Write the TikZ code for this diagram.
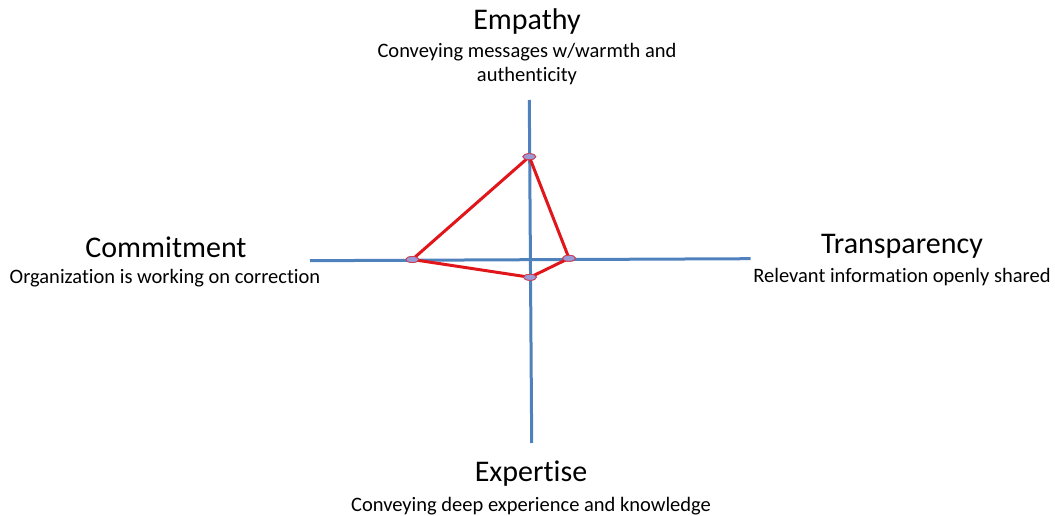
\documentclass[tikz,border=0pt]{standalone}
\usepackage{fontspec}
\setmainfont{Carlito}[RawFeature={-liga}]
\usetikzlibrary{shapes.geometric}
\definecolor{axisblue}{HTML}{4F81BD}
\definecolor{linered}{HTML}{E0161B}
\definecolor{markfill}{HTML}{9A9AD6}
\begin{document}
\begin{tikzpicture}[x=1pt,y=-1pt,
  axis/.style={draw=axisblue,line width=3pt},
  poly/.style={draw=linered,line width=3pt,line join=round},
  marker/.style={ellipse,draw=linered!70!markfill,fill=markfill,line width=0.8pt,minimum width=13pt,minimum height=6pt,inner sep=0pt},
  title/.style={font=\fontsize{30}{34}\selectfont,inner sep=0pt},
  sub/.style={font=\fontsize{20.5}{24}\selectfont,inner sep=0pt,align=center}]
\useasboundingbox (0,0) rectangle (1055,516);
% axes
\coordinate (vt) at (529.3,100);
\coordinate (vb) at (531.7,443);
\coordinate (hl) at (310,260.7);
\coordinate (hr) at (750.7,258.7);
\draw[axis] (vt) -- (vb);
\draw[axis] (hl) -- (hr);
% data points
\node[marker] (pt) at (529.3,156.7) {};
\node[marker] (pl) at (412.3,259.5) {};
\node[marker] (pr) at (569,258.3) {};
\node[marker] (pb) at (530,277.3) {};
\draw[poly] (pt.center) -- (pr.center) -- (pb.center) -- (pl.center) -- cycle;
\node[marker] at (pt) {};
\node[marker] at (pl) {};
\node[marker] at (pr) {};
\node[marker] at (pb) {};
% labels
\node[title] (empt) at (527,22) {Empathy};
\node[sub] (emps) at (527,64) {Conveying messages w/warmth and\\authenticity};
\node[title] (comt) at (166,247) {Commitment};
\node[sub] (coms) at (165,278) {Organization is working on correction};
\node[title] (trat) at (902,246) {Transparency};
\node[sub] (tras) at (902,277) {Relevant information openly shared};
\node[title] (expt) at (531,474) {Expertise};
\node[sub] (exps) at (531,506) {Conveying deep experience and knowledge};
\end{tikzpicture}
\end{document}
